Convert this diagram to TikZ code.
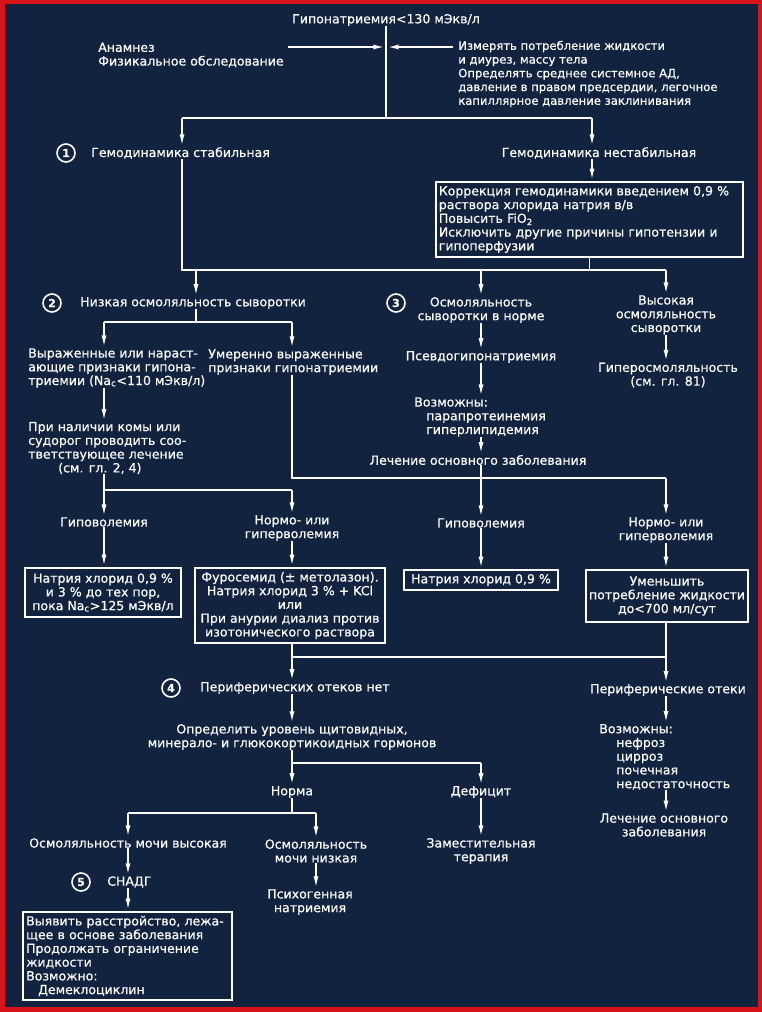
\documentclass[tikz,border=0pt]{standalone}
\usepackage{fontspec}
\setmainfont{DejaVu Sans}[FakeBold=0.5]
\usetikzlibrary{arrows.meta,calc}
\definecolor{bgc}{RGB}{17,35,62}
\definecolor{redc}{RGB}{215,20,25}
\begin{document}
\begin{tikzpicture}[x=0.75pt,y=-0.75pt,
 txt/.style={text=white,inner sep=0pt,font=\fontsize{9.4}{10.3}\selectfont},
 L/.style={txt,align=left},
 C/.style={txt,align=center},
 boxn/.style={draw=white,line width=1.2pt,text=white,font=\fontsize{9.4}{10.3}\selectfont,inner xsep=2.2pt,inner ysep=1.5pt},
 ln/.style={draw=white,line width=1.25pt},
 arr/.style={ln,-{Latex[length=8.5pt,width=3.8pt]},shorten >=1pt},
 num/.style={circle,draw=white,line width=1.2pt,text=white,minimum size=13.5pt,inner sep=0pt,font=\fontsize{8.2}{8}\selectfont\bfseries}]
\useasboundingbox (0,0) rectangle (762,1012);
\fill[redc] (0,0) rectangle (762,1012);
\fill[bgc] (5,4) rectangle (758,1007);
% column coordinates
\coordinate (cA) at (104,0);
\coordinate (cB) at (292,0);
\coordinate (cM) at (481,0);
\coordinate (cR) at (666,0);
\coordinate (c182) at (182,0);
\coordinate (c196) at (196,0);
\coordinate (c592) at (592,0);
\coordinate (c386) at (386,0);
\coordinate (c128) at (128,0);
\coordinate (c316) at (316,0);
% nodes
\node[C] (title) at (386,20) {Гипонатриемия<130 мЭкв/л};
\node[L,anchor=west] (anam) at (98,55) {Анамнез\\Физикальное обследование};
\node[L,anchor=west,font=\fontsize{8.7}{10.3}\selectfont] (izm) at (458,74) {Измерять потребление жидкости\\и диурез, массу тела\\Определять среднее системное АД,\\давление в правом предсердии, легочное\\капиллярное давление заклинивания};
\node[num] (n1) at (66,153) {1};
\node[L,anchor=west] (stab) at (91,153) {Гемодинамика стабильная};
\node[C] (nestab) at (599,153) {Гемодинамика нестабильная};
\node[boxn,align=left,text width=226pt,minimum width=230.25pt,minimum height=56.25pt] (box1) at (589.5,219.5) {Коррекция гемодинамики введением 0,9 \%\\раствора хлорида натрия в/в\\Повысить FiO\textsubscript{2}\\Исключить другие причины гипотензии и\\гипоперфузии};
\node[num] (n2) at (52,303) {2};
\node[L,anchor=west] (nizk) at (80,303) {Низкая осмоляльность сыворотки};
\node[num] (n3) at (396,303) {3};
\node[C] (osmN) at (481,310) {Осмоляльность\\сыворотки в норме};
\node[C] (vys) at (666,315) {Высокая\\осмоляльность\\сыворотки};
\node[L,anchor=west] (vyr) at (28,368) {Выраженные или нараст-\\ающие признаки гипона-\\триемии (Na\textsubscript{c}<110 мЭкв/л)};
\node[L,anchor=west] (umer) at (208,362) {Умеренно выраженные\\признаки гипонатриемии};
\node[L,anchor=west] (koma) at (28,448) {При наличии комы или\\судорог проводить соо-\\тветствующее лечение\\\hspace*{22.5pt}(см. гл. 2, 4)};
\node[C] (psevdo) at (481,357) {Псевдогипонатриемия};
\node[L,anchor=west] (vozm1) at (414,417) {Возможны:\\\hspace*{9pt}парапротеинемия\\\hspace*{9pt}гиперлипидемия};
\node[C] (lech1) at (478,460) {Лечение основного заболевания};
\node[C] (gosm) at (668,375) {Гиперосмоляльность\\(см. гл. 81)};
\node[C] (gipo1) at (104,522) {Гиповолемия};
\node[C] (normo1) at (292,528) {Нормо- или\\гиперволемия};
\node[C] (gipo2) at (481,523) {Гиповолемия};
\node[C] (normo2) at (666,530) {Нормо- или\\гиперволемия};
\node[boxn,align=center,minimum width=117pt,minimum height=36.75pt] (boxA) at (103,592.5) {Натрия хлорид 0,9 \%\\и 3 \% до тех пор,\\пока Na\textsubscript{c}>125 мЭкв/л};
\node[boxn,align=center,minimum width=142.5pt,minimum height=56.25pt] (boxB) at (290,605.5) {Фуросемид (± метолазон).\\Натрия хлорид 3 \% + KCl\\или\\При анурии диализ против\\изотонического раствора};
\node[boxn,align=center,minimum width=115.5pt,minimum height=15pt] (boxC) at (481,580) {Натрия хлорид 0,9 \%};
\node[boxn,align=center,minimum width=120pt,minimum height=39pt] (boxD) at (667,596) {Уменьшить\\потребление жидкости\\до<700 мл/сут};
\node[num] (n4) at (171,688) {4};
\node[L,anchor=west] (per1) at (200,688) {Периферических отеков нет};
\node[C] (per2) at (668,690) {Периферические отеки};
\node[C] (opr) at (292,737) {Определить уровень щитовидных,\\минерало- и глюкокортикоидных гормонов};
\node[C] (norma) at (292,792) {Норма};
\node[C] (defic) at (481,792) {Дефицит};
\node[C] (osmV) at (128,843) {Осмоляльность мочи высокая};
\node[C] (osmNz) at (316,851) {Осмоляльность\\мочи низкая};
\node[C] (zam) at (481,851) {Заместительная\\терапия};
\node[num] (n5) at (81,882) {5};
\node[L,anchor=west] (snadg) at (107,882) {СНАДГ};
\node[C] (psych) at (310,902) {Психогенная\\натриемия};
\node[boxn,align=left,text width=152pt,minimum width=155.25pt,minimum height=66pt] (boxE) at (127.5,956) {Выявить расстройство, лежа-\\щее в основе заболевания\\Продолжать ограничение\\жидкости\\Возможно:\\\hspace*{9pt}Демеклоциклин};
\node[L,anchor=west] (vozm2) at (599,757) {Возможны:\\\hspace*{12.75pt}нефроз\\\hspace*{12.75pt}цирроз\\\hspace*{12.75pt}почечная\\\hspace*{12.75pt}недостаточность};
\node[C] (lech2) at (664,825) {Лечение основного\\заболевания};
% connectors top
\coordinate (j0) at (386,118);
\coordinate (jl) at (182,118);
\coordinate (jr) at (592,118);
\coordinate (a1) at (288,47);
\coordinate (a2) at (453,47);
\draw[ln] (title.south) -- (j0);
\draw[ln] (jl) -- (jr);
\draw[arr] (a1) -- (a1 -| j0);
\draw[arr] (a2) -- (a2 -| j0);
\draw[arr] (jl) -- (jl |- stab.north);
\draw[arr] (jr) -- (jr |- nestab.north);
\draw[arr] (c592 |- nestab.south) -- (c592 |- box1.north);
\coordinate (k1) at (182,270);
\coordinate (k2) at (666,270);
\draw[ln] (c182 |- stab.south) -- (k1) -- (k2);
\draw[ln] (box1.south) -- (box1.south |- k1);
\draw[arr] (c196 |- k1) -- (c196 |- nizk.north);
\draw[arr] (cM |- k1) -- (cM |- osmN.north);
\draw[arr] (k2) -- (cR |- vys.north);
% middle and right columns
\draw[arr] (cM |- osmN.south) -- (cM |- psevdo.north);
\draw[arr] (cM |- psevdo.south) -- (cM |- vozm1.north);
\draw[arr] (cM |- vozm1.south) -- (cM |- lech1.north);
\draw[arr] (cR |- vys.south) -- (cR |- gosm.north);
% left branches
\coordinate (s2) at (196,322);
\draw[ln] (c196 |- nizk.south) -- (s2);
\draw[ln] (cA |- s2) -- (cB |- s2);
\draw[arr] (cA |- s2) -- (cA |- vyr.north);
\draw[arr] (cB |- s2) -- (cB |- umer.north);
\draw[arr] (cA |- vyr.south) -- (cA |- koma.north);
\coordinate (s3) at (104,490);
\draw[ln] (cA |- koma.south) -- (s3) -- (cB |- s3);
\draw[arr] (s3) -- (cA |- gipo1.north);
\draw[arr] (cB |- s3) -- (cB |- normo1.north);
\coordinate (s4) at (292,478);
\draw[ln] (cB |- umer.south) -- (s4) -- (cR |- s4);
\draw[arr] (cM |- lech1.south) -- (cM |- gipo2.north);
\draw[arr] (cR |- s4) -- (cR |- normo2.north);
% to boxes
\draw[arr] (cA |- gipo1.south) -- (cA |- boxA.north);
\draw[arr] (cB |- normo1.south) -- (cB |- boxB.north);
\draw[arr] (cM |- gipo2.south) -- (cM |- boxC.north);
\draw[arr] (cR |- normo2.south) -- (cR |- boxD.north);
% lower part
\draw[arr] (cB |- boxB.south) -- (cB |- per1.north);
\coordinate (s5) at (292,657);
\draw[ln] (s5) -- (cR |- s5);
\draw[arr] (cR |- boxD.south) -- (cR |- per2.north);
\draw[arr] (cB |- per1.south) -- (cB |- opr.north);
\draw[arr] (cB |- opr.south) -- (cB |- norma.north);
\coordinate (s6) at (292,763);
\draw[ln] (s6) -- (cM |- s6);
\draw[arr] (cM |- s6) -- (cM |- defic.north);
\draw[arr] (cM |- defic.south) -- (cM |- zam.north);
\coordinate (s7) at (292,813);
\draw[ln] (cB |- norma.south) -- (s7);
\draw[ln] (c128 |- s7) -- (c316 |- s7);
\draw[arr] (c128 |- s7) -- (c128 |- osmV.north);
\draw[arr] (c316 |- s7) -- (c316 |- osmNz.north);
\draw[arr] (c128 |- osmV.south) -- (c128 |- snadg.north);
\draw[arr] (c128 |- snadg.south) -- (c128 |- boxE.north);
\draw[arr] (c316 |- osmNz.south) -- (c316 |- psych.north);
\draw[arr] (cR |- per2.south) -- (cR |- vozm2.north);
\draw[arr] (cR |- vozm2.south) -- (cR |- lech2.north);
\end{tikzpicture}
\end{document}
